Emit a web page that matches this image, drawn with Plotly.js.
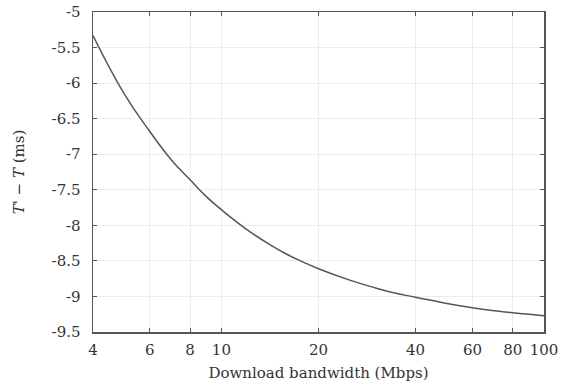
<!DOCTYPE html>
<html>
<head>
<meta charset="utf-8">
<script src="https://cdn.plot.ly/plotly-3.0.1.min.js"></script>
<style>html,body{margin:0;padding:0;background:#fff;}#chart{width:563px;height:385px;}</style>
</head>
<body>
<div id="chart"></div>
<script>
const bandwidth = [4, 5, 6, 7, 8, 9, 10, 12, 14, 16, 18, 20, 25, 30, 35, 40, 50, 60, 70, 80, 90, 100];
const delta = [-5.33, -6.15, -6.68, -7.08, -7.36, -7.60, -7.78, -8.06, -8.26, -8.41, -8.52, -8.61, -8.77, -8.88, -8.96, -9.01, -9.10, -9.16, -9.20, -9.23, -9.25, -9.27];
const xTicks = [4, 6, 8, 10, 20, 40, 60, 80, 100];
const yTicks = [-9.5, -9, -8.5, -8, -7.5, -7, -6.5, -6, -5.5, -5];

const fontFam = 'DejaVu Serif, serif';
const trace = {
  x: bandwidth, y: delta, type: 'scatter', mode: 'lines',
  line: {color: '#555555', width: 1.5, shape: 'spline', smoothing: 1.3},
  hoverinfo: 'skip', showlegend: false
};
const axisCommon = {
  showline: true, mirror: 'ticks', linecolor: '#555555', linewidth: 1.5,
  ticks: 'inside', ticklen: 4, tickcolor: '#555555', tickwidth: 1,
  showgrid: true, gridcolor: '#ececec', gridwidth: 1, zeroline: false,
  tickfont: {family: fontFam, size: 15, color: '#333333'}
};
const layout = {
  width: 563, height: 385,
  margin: {l: 93, r: 19, t: 12, b: 53},
  paper_bgcolor: '#ffffff', plot_bgcolor: '#ffffff',
  font: {family: fontFam, color: '#333333'},
  xaxis: Object.assign({}, axisCommon, {
    type: 'log', range: [Math.log10(4), 2],
    tickmode: 'array', tickvals: xTicks, ticktext: xTicks.map(String),
    ticklabelstandoff: 3,
    title: {text: 'Download bandwidth (Mbps)', font: {family: fontFam, size: 15, color: '#333333'}, standoff: 10}
  }),
  yaxis: Object.assign({}, axisCommon, {
    range: [-9.5, -5],
    tickmode: 'array', tickvals: yTicks, ticktext: yTicks.map(String),
    ticklabelstandoff: 8,
    title: {text: "<i>T</i>' − <i>T</i> (ms)", font: {family: fontFam, size: 15, color: '#333333'}, standoff: 23}
  })
};
Plotly.newPlot('chart', [trace], layout, {staticPlot: true, displayModeBar: false});
</script>
</body>
</html>
